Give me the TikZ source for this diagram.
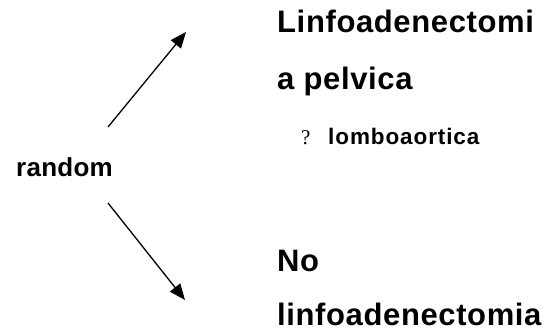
\documentclass[tikz,border=0pt]{standalone}
\usepackage{fontspec}
\setmainfont{Liberation Sans}
\newfontfamily\qmarkfont{Liberation Serif}
\usetikzlibrary{arrows.meta}

\begin{document}
\begin{tikzpicture}[x=1pt, y=-1pt,
		bigtext/.style={anchor=base west, inner sep=0pt,
			font=\fontsize{31}{31}\selectfont\bfseries\addfontfeatures{LetterSpace=2}},
		smalltext/.style={anchor=base west, inner sep=0pt,
			font=\fontsize{22.5}{22.5}\selectfont\bfseries\addfontfeatures{LetterSpace=4}},
		arrow/.style={line width=1.3pt, -{Triangle[length=16pt, width=13pt]}}]
		\useasboundingbox (0,0) rectangle (557,334);
		% labels
		\node[anchor=base west, inner sep=0pt, font=\fontsize{26}{26}\selectfont\bfseries\addfontfeatures{LetterSpace=1}] (random) at (16,177) {random};
		\node[bigtext] (pelv1) at (277,33) {Linfoadenectomi};
		\node[bigtext] (pelv2) at (277,90) {a pelvica};
		\node[anchor=base west, inner sep=0pt, font=\fontsize{21}{21}\selectfont\qmarkfont] (qmark) at (301,145) {?};
		\node[smalltext] (lombo) at (328,145) {lomboaortica};
		\node[bigtext] (no1) at (277,271) {No};
		\node[bigtext] (no2) at (277,325) {linfoadenectomia};
		% arrows
		\coordinate (upstart) at (108,127);
		\coordinate (upend) at (186,32);
		\coordinate (downstart) at (108,203);
		\coordinate (downend) at (185,300);
		\draw[arrow] (upstart) -- (upend);
		\draw[arrow] (downstart) -- (downend);
	\end{tikzpicture}
\end{document}
